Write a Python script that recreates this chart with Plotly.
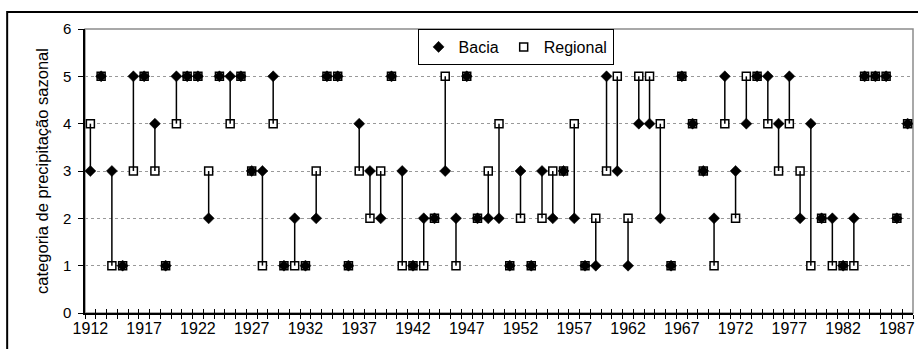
import plotly.graph_objects as go

years = list(range(1912, 1989))
bacia = [3, 5, 3, 1, 5, 5, 4, 1, 5, 5,
         5, 2, 5, 5, 5, 3, 3, 5, 1, 2,
         1, 2, 5, 5, 1, 4, 3, 2, 5, 3,
         1, 2, 2, 3, 2, 5, 2, 2, 2, 1,
         3, 1, 3, 2, 3, 2, 1, 1, 5, 3,
         1, 4, 4, 2, 1, 5, 4, 3, 2, 5,
         3, 4, 5, 5, 4, 5, 2, 4, 2, 2,
         1, 2, 5, 5, 5, 2, 4]
regional = [4, 5, 1, 1, 3, 5, 3, 1, 4, 5,
            5, 3, 5, 4, 5, 3, 1, 4, 1, 1,
            1, 3, 5, 5, 1, 3, 2, 3, 5, 1,
            1, 1, 2, 5, 1, 5, 2, 3, 4, 1,
            2, 1, 2, 3, 3, 4, 1, 2, 3, 5,
            2, 5, 5, 4, 1, 5, 4, 3, 1, 4,
            2, 5, 5, 4, 3, 4, 3, 1, 2, 1,
            1, 1, 5, 5, 5, 2, 4]
tick_labels = [str(y) for y in range(1912, 1988, 5)]
y_ticks = [0, 1, 2, 3, 4, 5, 6]

FONT = "Arial, Liberation Sans, sans-serif"

# high-low lines built from the two series
hx, hy = [], []
for x, b, r in zip(years, bacia, regional):
    hx += [x, x, None]
    hy += [b, r, None]

fig = go.Figure()
fig.add_trace(go.Scatter(x=hx, y=hy, mode="lines", line=dict(color="black", width=1.5),
                         showlegend=False, hoverinfo="skip", xaxis="x2"))
fig.add_trace(go.Scatter(x=years, y=regional, mode="markers", name="Regional",
                         marker=dict(symbol="square", size=8, color="white",
                                     line=dict(color="black", width=1.5)),
                         legendrank=2))
fig.add_trace(go.Scatter(x=years, y=bacia, mode="markers", name="Bacia",
                         marker=dict(symbol="diamond", size=8.5, color="black",
                                     line=dict(color="black", width=0.5)),
                         legendrank=1))

xr = [years[0] - 0.5, years[-1] + 0.5]

fig.update_layout(
    width=918, height=349,
    margin=dict(l=85, r=3, t=29, b=36),
    paper_bgcolor="white", plot_bgcolor="white",
    font=dict(family=FONT, size=16, color="black"),
    xaxis=dict(range=xr, tickmode="array", tickvals=[int(t) for t in tick_labels],
               ticktext=tick_labels, ticks="", showgrid=False, zeroline=False,
               showline=True, linecolor="black", linewidth=1.5,
               tickfont=dict(size=16),
               minor=dict(tick0=years[0] - 0.5, dtick=1, ticks="outside", ticklen=4,
                          tickcolor="black", tickwidth=1.2, showgrid=False)),
    xaxis2=dict(range=xr, overlaying="x", side="bottom", anchor="y",
                tickmode="array", tickvals=[y - 0.5 for y in years] + [years[-1] + 0.5],
                ticks="inside", ticklen=4, tickcolor="black", tickwidth=1.2,
                showticklabels=False, showgrid=False, zeroline=False, showline=False),
    yaxis=dict(range=[0, 6], tickmode="array", tickvals=y_ticks, ticks="outside",
               ticklen=5, tickcolor="black", tickwidth=1.2, ticklabelstandoff=4,
               showline=True, linecolor="black", linewidth=1.5,
               showgrid=True, gridcolor="#999999", griddash="dot", gridwidth=1,
               zeroline=False, tickfont=dict(size=15),
               title=dict(text="categoria de precipitação sazonal", font=dict(size=16.5),
                          standoff=10)),
    legend=dict(orientation="h", x=0.52, y=1, xanchor="center", yanchor="top",
                bgcolor="white", bordercolor="black", borderwidth=1,
                font=dict(size=16), itemwidth=30, tracegroupgap=0),
    shapes=[
        dict(type="rect", xref="paper", yref="paper", x0=0, x1=1, y0=0, y1=1,
             line=dict(color="#8c8c8c", width=1.5), layer="below"),
        dict(type="rect", xref="paper", yref="paper", x0=-0.094, x1=1.02,
             y0=-0.2, y1=1.06, line=dict(color="black", width=2), layer="below"),
    ],
)

fig.write_html("out.html", config={"displayModeBar": False},
               post_script="document.body.style.margin='0px';")
